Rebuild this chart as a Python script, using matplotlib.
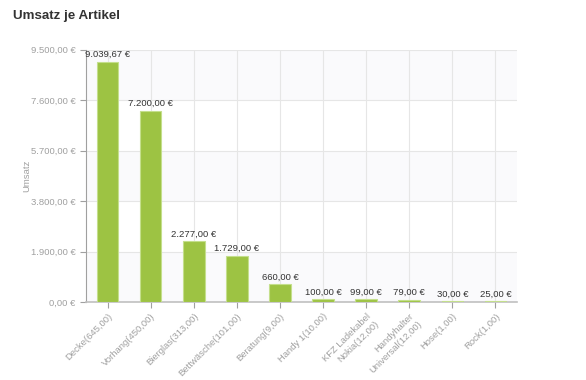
import numpy as np
import matplotlib
matplotlib.use("Agg")
import matplotlib.pyplot as plt

# Umsatz je Artikel - bar chart

artikel = ["Decke(645,00)", "Vorhang(450,00)", "Bierglas(313,00)", "Bettwäsche(101,00)",
           "Beratung(9,00)", "Handy 1(10,00)", "KFZ Ladekabel\nNokia(12,00)",
           "Handyhalter\nUniversal(12,00)", "Hose(1,00)", "Rock(1,00)"]
umsatz = [9039.67, 7200.00, 2277.00, 1729.00, 660.00, 100.00, 99.00, 79.00, 30.00, 25.00]
y_ticks = [0, 1900, 3800, 5700, 7600, 9500]


def euro(v):
    s = "{:,.2f}".format(v)
    s = s.replace(",", "X").replace(".", ",").replace("X", ".")
    return s + " €"


plt.rcParams['font.family'] = ['Liberation Sans', 'DejaVu Sans']

fig = plt.figure(figsize=(5.86, 3.80), dpi=100)
ax = fig.add_axes([86 / 586, 1 - 302 / 380, (517 - 86) / 586, (302 - 49.5) / 380])

x = np.arange(len(artikel))

# alternating background bands
for i in range(len(y_ticks) - 1):
    if i % 2 == 0:
        ax.axhspan(y_ticks[i], y_ticks[i + 1], color="#fafafc", zorder=0, lw=0)

ax.bar(x, umsatz, width=0.5, color="#9dc343", edgecolor="#c4df8c", linewidth=0.8, zorder=3)

for xi, v in zip(x, umsatz):
    ax.annotate(euro(v), (xi, v), xytext=(0, 2), textcoords="offset points",
                ha="center", va="bottom", fontsize=6.8, color="#333333", zorder=4)

ax.set_xlim(-0.5, len(artikel) - 0.5)
ax.set_ylim(0, 9500)
ax.set_yticks(y_ticks)
ax.set_yticklabels([euro(t) for t in y_ticks])
ax.set_xticks(x)
ax.set_xticklabels(artikel, rotation=45, ha="right", rotation_mode="anchor",
                   fontsize=6.8, color="#a0a0a0", linespacing=1.3)
ax.tick_params(axis="y", labelsize=6.8, labelcolor="#a0a0a0", color="#a0a0a0", length=4, width=0.8)
ax.tick_params(axis="x", color="#a0a0a0", length=4, width=0.8, pad=3)

ax.grid(True, color="#e6e6e6", linewidth=0.8, zorder=1)
ax.set_axisbelow(True)

for side in ["top", "right"]:
    ax.spines[side].set_visible(False)
ax.spines["left"].set_color("#a0a0a0")
ax.spines["bottom"].set_color("#c0c0c0")
ax.spines["bottom"].set_linewidth(1.2)

ax.set_ylabel("Umsatz", fontsize=6.8, color="#a0a0a0", labelpad=0)

fig.text(13 / 586, 1 - 16 / 380, "Umsatz je Artikel", fontsize=9.6, fontweight="bold",
         color="#333333", va="center", ha="left")

fig.savefig("out.png", dpi=100)
